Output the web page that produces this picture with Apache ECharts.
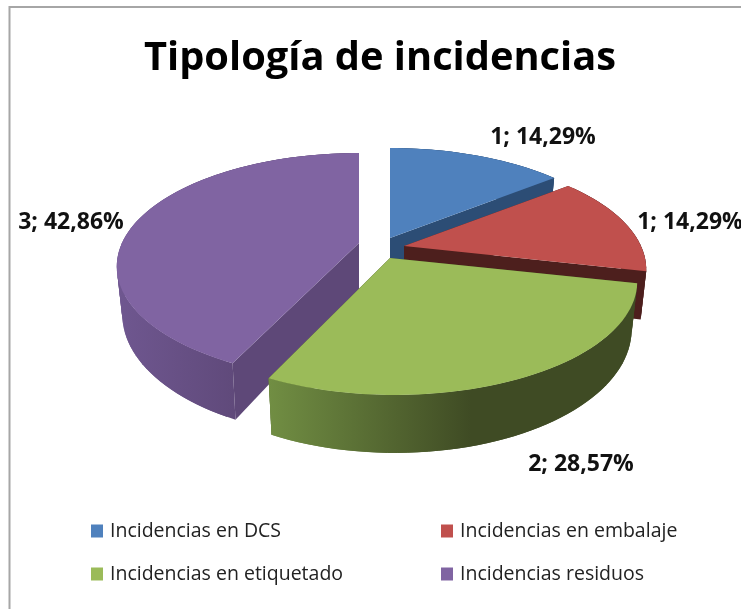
<!DOCTYPE html>
<html><head><meta charset="utf-8">
<style>html,body{margin:0;padding:0;background:#fff}#c{width:741px;height:609px}</style>
<script src="https://cdn.jsdelivr.net/npm/echarts@6/dist/echarts.min.js"></script>
</head><body><div id="c"></div>
<script>
var categories = ['Incidencias en DCS','Incidencias en embalaje','Incidencias en etiquetado','Incidencias residuos'];
var values = [1,1,2,3];
var topColors = ['#4F81BD','#C0504D','#9BBB59','#8064A2'];
var faceColors = ['#2C4D75','#4D1F1D','#3F4B24','#5E4878'];
var wallStart = ['#2C4D75','#4D1F1D','#718E43','#6F5790'];
var wallEnd = ['#2C4D75','#4D1F1D','#3F4B24','#5E4878'];
var titleText = 'Tipología de incidencias';

// projection of the tilted disc
var A = 237, B = 108.6, K = 0.207, DEPTH = 46, SHRINK = 0.977;
var tips = [[390,238],[404,246],[395,258],[359,243]];
var apexes = [[390,238],[404,246],[390,258],[359,243]];
var labelPos = [[543,137],[690,222],[581,464],[71,222]];
var drawOrder = [0,1,3,2];
var total = values.reduce(function(a,b){return a+b;},0);

function project(tip, deg, bottom){
  var t = deg*Math.PI/180, u = Math.sin(t), v = -Math.cos(t), den = 1-K*v;
  return bottom
    ? [tip[0]+SHRINK*A*u/den, tip[1]+(B*v+DEPTH)/den]
    : [tip[0]+A*u/den, tip[1]+B*v/den];
}
function arc(tip,a0,a1,bottom){
  var pts=[], n=Math.max(8,Math.round(Math.abs(a1-a0)/2));
  for(var i=0;i<=n;i++) pts.push(project(tip,a0+(a1-a0)*i/n,bottom));
  return pts;
}
function apexBottom(p){ return [p[0], p[1]+DEPTH]; }

function makeSeries(idx){
  var before = values.slice(0,idx).reduce(function(a,b){return a+b;},0);
  var a0 = before/total*360, a1 = (before+values[idx])/total*360;
  var tip = tips[idx], apex = apexes[idx];
  return {
    type:'custom', name:categories[idx], coordinateSystem:'none',
    itemStyle:{color:topColors[idx]},
    silent:true, clip:false, animation:false,
    data:[{name:categories[idx], value:values[idx]}],
    renderItem:function(){
      var ch = [];
      // flat cut faces
      [a0,a1].forEach(function(a){
        ch.push({type:'polygon',shape:{points:[apex,project(tip,a,false),project(tip,a,true),apexBottom(apex)]},
          style:{fill:faceColors[idx]}});
      });
      // outer curved wall: overlapping extruded strips sharing one page-wide gradient
      var tops = arc(tip,a0,a1,false), bots = arc(tip,a0,a1,true);
      var xs = tops.concat(bots).map(function(p){return p[0];});
      var grad = new echarts.graphic.LinearGradient(Math.min.apply(null,xs),0,Math.max.apply(null,xs),0,[
        {offset:0,color:wallStart[idx]},{offset:0.55,color:wallEnd[idx]},{offset:1,color:wallEnd[idx]}],true);
      for(var i=0;i<tops.length-1;i++){
        var j=Math.min(i+2,tops.length-1);
        ch.push({type:'polygon',shape:{points:[tops[i],tops[j],bots[j],bots[i]]},style:{fill:grad}});
      }
      // top
      ch.push({type:'polygon',shape:{points:[apex].concat(tops)},style:{fill:topColors[idx]}});
      // data label
      ch.push({type:'text',z2:10,style:{x:labelPos[idx][0],y:labelPos[idx][1],
        text:values[idx]+'; '+(values[idx]/total*100).toFixed(2).replace('.',',')+'%',
        align:'center',verticalAlign:'middle',fill:'#111',
        font:'bold 23px "Open Sans"'}});
      return {type:'group',children:ch};
    }
  };
}

var chart = echarts.init(document.getElementById('c'),null,{renderer:'canvas'});
var legendText = {fontFamily:'Open Sans',fontSize:19.5,color:'#222',padding:[0,0,0,2]};
chart.setOption({
  animation:false,
  backgroundColor:'#fff',
  title:{text:titleText,left:375,top:34,textAlign:'center',
    textStyle:{fontFamily:'Open Sans',fontWeight:'bold',fontSize:39.8,color:'#000'}},
  graphic:[{type:'rect',silent:true,shape:{x:9.5,y:7,width:800,height:700},
    style:{fill:'none',stroke:'#A6A6A6',lineWidth:2}}],
  legend:[
    {orient:'vertical',left:91,top:521,itemWidth:12,itemHeight:13,itemGap:23,icon:'rect',
     data:[categories[0],categories[2]],textStyle:legendText,padding:0,selectedMode:false},
    {orient:'vertical',left:441,top:521,itemWidth:12,itemHeight:13,itemGap:23,icon:'rect',
     data:[categories[1],categories[3]],textStyle:legendText,padding:0,selectedMode:false}
  ],
  series:drawOrder.map(makeSeries)
});
</script></body></html>
